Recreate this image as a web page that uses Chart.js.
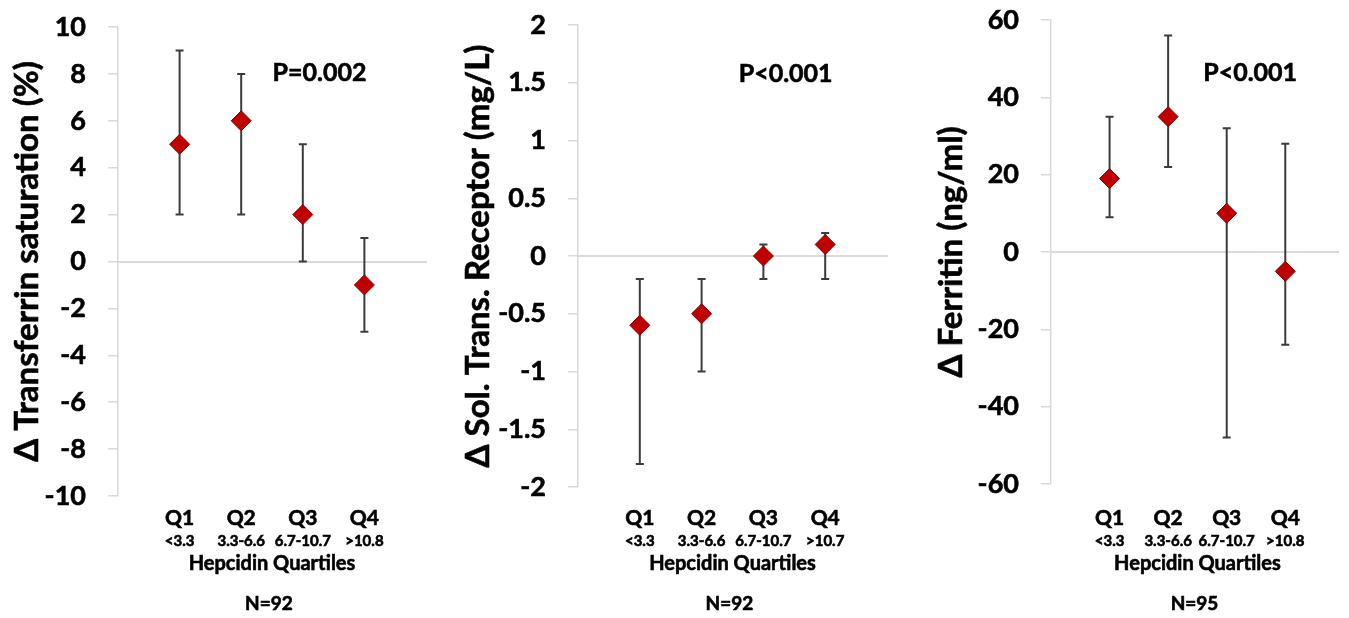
<!DOCTYPE html>
<html>
<head>
<meta charset="utf-8">
<script src="https://cdn.jsdelivr.net/npm/chart.js@4.4.1/dist/chart.umd.min.js"></script>
<style>
    body { margin: 0; background: #fff; }
    #wrap { position: relative; width: 1349px; height: 618px; overflow: hidden; }
    canvas { position: absolute; top: 0; }
</style>
</head>
<body>
<div id="wrap">
    <canvas id="tsatChart" width="460" height="618" style="left:0px"></canvas>
    <canvas id="strChart" width="460" height="618" style="left:460px"></canvas>
    <canvas id="ferChart" width="429" height="618" style="left:920px"></canvas>
</div>
<script>
// quartile categories (x = 1..4)
const quartiles = ['Q1', 'Q2', 'Q3', 'Q4'];
const quartilePos = [1, 2, 3, 4];
const rangesA = ['<3.3', '3.3-6.6', '6.7-10.7', '>10.8'];
const rangesB = ['<3.3', '3.3-6.6', '6.7-10.7', '>10.7'];

// delta transferrin saturation (%)
const tsatMean = [5, 6, 2, -1];
const tsatLow = [2, 2, 0, -3];
const tsatHigh = [9, 8, 5, 1];
const tsatTicks = [-10, -8, -6, -4, -2, 0, 2, 4, 6, 8, 10];

// delta soluble transferrin receptor (mg/L)
const strMean = [-0.6, -0.5, 0, 0.1];
const strLow = [-1.8, -1.0, -0.2, -0.2];
const strHigh = [-0.2, -0.2, 0.1, 0.2];
const strTicks = [-2, -1.5, -1, -0.5, 0, 0.5, 1, 1.5, 2];

// delta ferritin (ng/ml)
const ferMean = [19, 35, 10, -5];
const ferLow = [9, 22, -48, -24];
const ferHigh = [35, 56, 32, 28];
const ferTicks = [-60, -40, -20, 0, 20, 40, 60];

const FONT = "Lato, 'Open Sans', sans-serif";
const AXIS_GREY = '#d9d9d9';

// draws the whiskers under the diamonds
const errorBars = {
    id: 'errorBars',
    beforeDatasetsDraw(chart) {
        const ctx = chart.ctx;
        const xs = chart.scales.x, ys = chart.scales.y;
        const eb = chart.options.plugins.errorBars;
        ctx.save();
        ctx.strokeStyle = '#3c3c3c';
        ctx.lineWidth = 2;
        eb.low.forEach((lo, i) => {
            const x = xs.getPixelForValue(quartilePos[i]);
            const y1 = ys.getPixelForValue(lo);
            const y2 = ys.getPixelForValue(eb.high[i]);
            ctx.beginPath();
            ctx.moveTo(x, y1); ctx.lineTo(x, y2);
            ctx.moveTo(x - 4, y1); ctx.lineTo(x + 4, y1);
            ctx.moveTo(x - 4, y2); ctx.lineTo(x + 4, y2);
            ctx.stroke();
        });
        ctx.restore();
    }
};

function boldText(ctx, txt, x, y, size) {
    ctx.font = `bold ${size}px ${FONT}`;
    ctx.fillText(txt, x, y);
    ctx.strokeText(txt, x, y);
}

// y title, quartile labels, axis caption, N and p value
const labelText = {
    id: 'labelText',
    afterDraw(chart) {
        const ctx = chart.ctx;
        const xs = chart.scales.x, ys = chart.scales.y;
        const o = chart.options.plugins.labelText;
        ctx.save();
        ctx.fillStyle = '#000';
        ctx.strokeStyle = '#000';
        ctx.lineWidth = 0.6;
        ctx.textAlign = 'center';
        ctx.textBaseline = 'middle';
        quartiles.forEach((q, i) => {
            const x = xs.getPixelForValue(quartilePos[i]);
            boldText(ctx, q, x, 518, 21);
            boldText(ctx, o.ranges[i], x, 541, 15);
        });
        boldText(ctx, 'Hepcidin Quartiles', xs.getPixelForValue(2.5), 564, 20);
        boldText(ctx, o.n, xs.getPixelForValue(2.45), 604, 19);
        boldText(ctx, o.p, xs.getPixelForValue(o.pAt[0]), ys.getPixelForValue(o.pAt[1]), 25);

        ctx.save();
        ctx.translate(o.titleX, (ys.top + ys.bottom) / 2);
        ctx.rotate(-Math.PI / 2);
        boldText(ctx, o.title, 0, 0, 33);
        ctx.restore();
        ctx.restore();
    }
};

function makeChart(id, cfg) {
    const ctx = document.getElementById(id).getContext('2d');
    return new Chart(ctx, {
        type: 'scatter',
        data: {
            datasets: [{
                data: quartilePos.map((x, i) => ({ x: x, y: cfg.mean[i] })),
                pointStyle: 'rectRot',
                pointRadius: 10,
                backgroundColor: '#c00000',
                borderColor: '#800000',
                borderWidth: 1,
                showLine: false
            }]
        },
        options: {
            responsive: false,
            animation: false,
            events: [],
            layout: { padding: cfg.pad },
            plugins: {
                legend: { display: false },
                tooltip: { enabled: false },
                errorBars: { low: cfg.low, high: cfg.high },
                labelText: { ranges: cfg.ranges, n: cfg.n, p: cfg.p, pAt: cfg.pAt, title: cfg.title, titleX: cfg.titleX }
            },
            scales: {
                x: {
                    type: 'linear',
                    position: { y: 0 },
                    min: 0,
                    max: cfg.xMax,
                    ticks: { display: false },
                    grid: { drawOnChartArea: false, drawTicks: false },
                    border: { color: AXIS_GREY, width: 2 }
                },
                y: {
                    min: cfg.ticks[0],
                    max: cfg.ticks[cfg.ticks.length - 1],
                    afterBuildTicks: scale => { scale.ticks = cfg.ticks.map(v => ({ value: v })); },
                    afterFit: scale => {
                        scale.width = cfg.axisWidth;
                        scale.paddingTop = 0;
                        scale.paddingBottom = 0;
                    },
                    ticks: {
                        padding: 22,
                        color: '#000',
                        textStrokeColor: '#000',
                        textStrokeWidth: 0.6,
                        font: { family: FONT, size: 27, weight: 'bold' },
                        callback: v => String(v)
                    },
                    grid: { drawOnChartArea: false, drawTicks: true, tickLength: 10, color: AXIS_GREY, lineWidth: 1.5 },
                    border: { color: AXIS_GREY, width: 1.5 }
                }
            }
        },
        plugins: [errorBars, labelText]
    });
}

makeChart('tsatChart', {
    mean: tsatMean, low: tsatLow, high: tsatHigh, ticks: tsatTicks,
    title: '\u0394 Transferrin saturation (%)', ranges: rangesA, n: 'N=92', p: 'P=0.002',
    pAt: [3.27, 8.05], xMax: 5, axisWidth: 118, titleX: 27,
    pad: { top: 27, bottom: 122, left: 0, right: 34 }
});

makeChart('strChart', {
    mean: strMean, low: strLow, high: strHigh, ticks: strTicks,
    title: '\u0394 Sol. Trans. Receptor (mg/L)', ranges: rangesB, n: 'N=92', p: 'P<0.001',
    pAt: [3.36, 1.58], xMax: 5, axisWidth: 118, titleX: 18,
    pad: { top: 25, bottom: 131, left: 0, right: 33 }
});

makeChart('ferChart', {
    mean: ferMean, low: ferLow, high: ferHigh, ticks: ferTicks,
    title: '\u0394 Ferritin (ng/ml)', ranges: rangesA, n: 'N=95', p: 'P<0.001',
    pAt: [3.4, 46.4], xMax: 4.9, axisWidth: 131, titleX: 31,
    pad: { top: 20, bottom: 134, left: 0, right: 0 }
});
</script>
</body>
</html>
